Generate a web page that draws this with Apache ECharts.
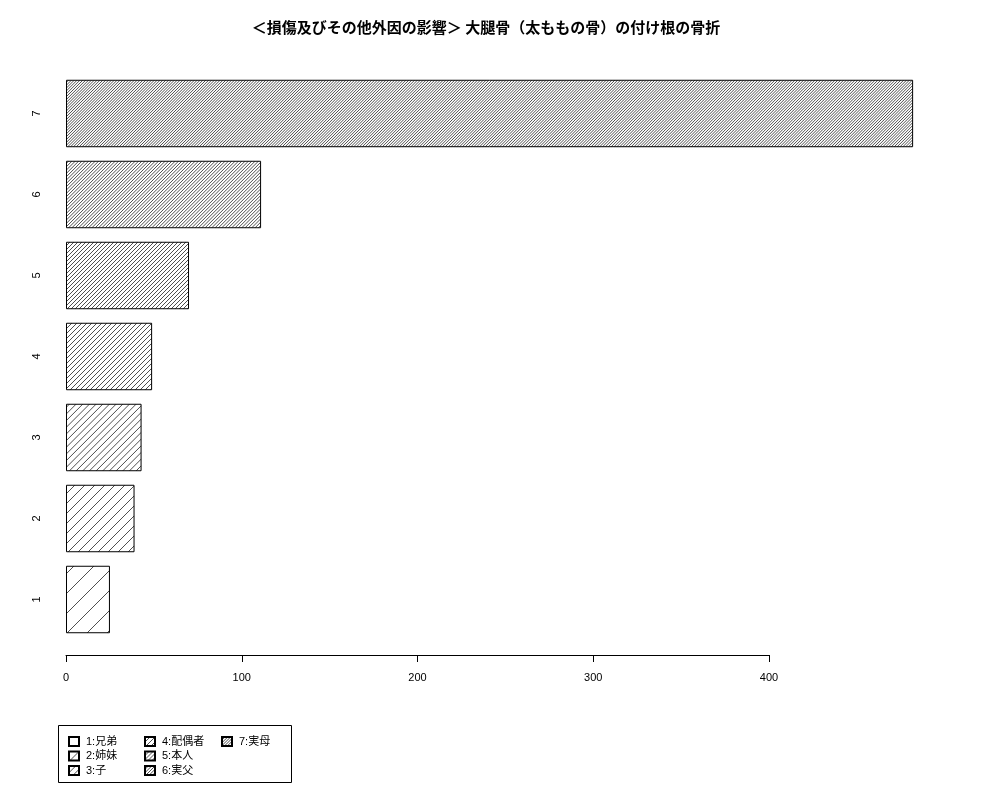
<!DOCTYPE html>
<html>
<head>
<meta charset="utf-8">
<script src="https://cdn.jsdelivr.net/npm/echarts@6/dist/echarts.min.js"></script>
<style>
body{margin:0;background:#fff}
#main{width:1000px;height:800px}
</style>
</head>
<body>
<div id="main"></div>
<script>
// カテゴリ（下から上へ）
var cats = ['1','2','3','4','5','6','7'];
var names = ['1:兄弟','2:姉妹','3:子','4:配偶者','5:本人','6:実父','7:実母'];
var counts = [25, 39, 43, 49, 70, 111, 482];
// x軸の目盛り
var tickMin = 0, tickMax = 400, tickStep = 100;
var barMax = 500;
// 斜線の間隔(px) 密度が上がるほど細かい
var hatchStep = [20, 10, 6.67, 5, 4, 3.33, 2.86];

var px = 703 / 400; // 1単位あたりのピクセル

// 斜線パターンを作る
function hatch(step){
    var c = document.createElement('canvas');
    c.width = 1000; c.height = 800;
    var ctx = c.getContext('2d');
    ctx.fillStyle = '#fff';
    ctx.fillRect(0,0,1000,800);
    ctx.strokeStyle = '#222';
    ctx.lineWidth = 0.8;
    ctx.beginPath();
    for(var k=0;k*step<1900;k++){
        ctx.moveTo(k*step,0);
        ctx.lineTo(0,k*step);
    }
    ctx.stroke();
    return {image:c, repeat:'repeat'};
}

var series = [];
for(var i=0;i<cats.length;i++){
    var d = [];
    for(var j=0;j<cats.length;j++){
        d.push(j==i ? counts[i] : '-');
    }
    series.push({
        name:names[i],
        type:'bar',
        stack:'all',
        barCategoryGap:'16.7%',
        xAxisIndex:0,
        yAxisIndex:0,
        itemStyle:{color:hatch(hatchStep[i]),borderColor:'#000',borderWidth:1},
        emphasis:{disabled:true},
        data:d
    });
}

var fnt = '"Liberation Sans", "Noto Sans CJK JP", sans-serif';
function legendCol(list, left){
    return {
        orient:'vertical',
        left:left,
        top:731,
        itemWidth:10,
        itemHeight:9,
        itemGap:3.5,
        icon:'rect',
        selectedMode:false,
        textStyle:{fontSize:11,color:'#000',fontFamily:fnt,padding:[0,0,0,2]},
        data:list
    };
}

var myChart = echarts.init(document.getElementById('main'));
var option = {
    backgroundColor:'#fff',
    animation:false,
    title:{
        text:'＜損傷及びその他外因の影響＞ 大腿骨（太ももの骨）の付け根の骨折',
        left:481,
        top:15,
        textAlign:'center',
        textStyle:{fontSize:15,fontWeight:'bold',color:'#000',fontFamily:'"Noto Sans CJK JP", sans-serif'}
    },
    legend:[
        legendCol(names.slice(0,3), 63),
        legendCol(names.slice(3,6), 139),
        legendCol(names.slice(6,7), 216)
    ],
    graphic:[{
        type:'rect',
        shape:{x:58.5,y:725.5,width:233,height:57},
        style:{fill:'none',stroke:'#000',lineWidth:1},
        silent:true
    }],
    grid:[
        {left:66, top:73, width:barMax*px, height:567},
        {left:66, top:100, width:(tickMax-tickMin)*px, height:555}
    ],
    xAxis:[
        {gridIndex:0,type:'value',min:0,max:barMax,show:false},
        {
            gridIndex:1,type:'value',min:tickMin,max:tickMax,interval:tickStep,
            axisLine:{show:true,lineStyle:{color:'#000',width:1}},
            axisTick:{show:true,length:7,lineStyle:{color:'#000'}},
            axisLabel:{fontSize:11,color:'#000',margin:17,fontFamily:fnt},
            splitLine:{show:false}
        }
    ],
    yAxis:[
        {
            gridIndex:0,type:'category',data:cats,
            axisLine:{show:false},axisTick:{show:false},
            axisLabel:{rotate:90,fontSize:11,color:'#000',margin:24,fontFamily:fnt}
        },
        {gridIndex:1,type:'value',show:false}
    ],
    series:series
};
myChart.setOption(option);
</script>
</body>
</html>
